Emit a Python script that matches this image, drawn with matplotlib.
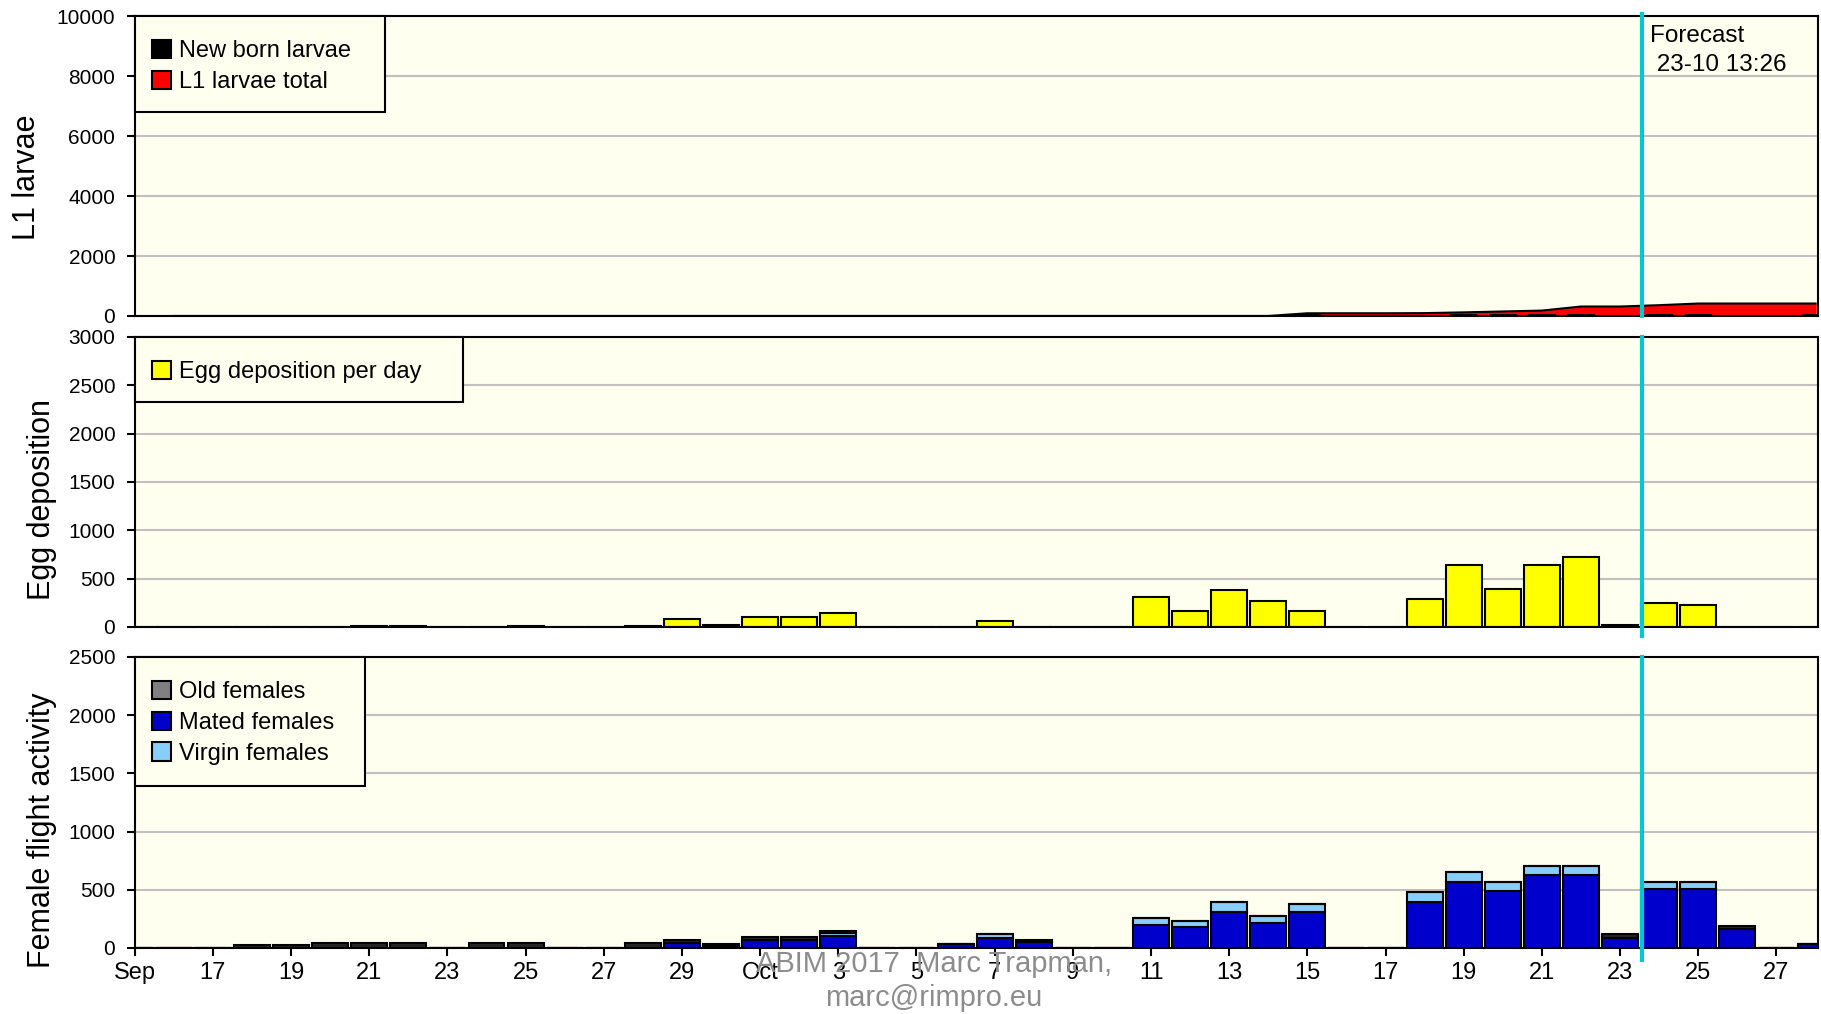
import numpy as np
import matplotlib
matplotlib.use('Agg')
import matplotlib.pyplot as plt
from matplotlib.patches import Patch, Rectangle
from matplotlib.transforms import blended_transform_factory

plt.rcParams['font.family'] = ['Liberation Sans', 'DejaVu Sans']

# days counted from 15 Sep (0) to 28 Oct (43)
days = np.arange(44)
tick_days = np.arange(0, 43, 2)
tick_labels = ['Sep', '17', '19', '21', '23', '25', '27', '29', 'Oct', '3', '5', '7',
               '9', '11', '13', '15', '17', '19', '21', '23', '25', '27']
forecast_day = 38 + 13.43 / 24   # 23-10 13:26

# L1 larvae
l1_days = np.arange(1, 44)
l1_total = np.array([0]*29 + [90, 90, 90, 95, 120, 150, 180, 315, 315, 360, 415, 415, 415, 415])
newborn = np.array([0]*30 + [60, 0, 0, 0, 70, 70, 70, 70, 0, 70, 70, 0, 0, 70])

# egg deposition per day
eggs = np.array([0, 0, 0, 3, 3, 3, 12, 12, 0, 3, 12, 0, 0, 12, 84, 20, 105, 105, 143, 0,
                 0, 4, 63, 4, 0, 0, 315, 168, 378, 273, 168, 0, 0, 290, 643, 395, 643, 727,
                 17, 245, 227, 0, 0, 0])

# female flight activity
mated = np.array([0, 0, 0, 0, 0, 0, 0, 0, 0, 0, 0, 0, 0, 0, 40, 20, 66, 66, 106, 0,
                  0, 30, 85, 50, 0, 0, 201, 184, 305, 218, 305, 0, 0, 391, 563, 491, 629, 629,
                  89, 511, 511, 161, 0, 30])
virgin = np.array([0]*18 + [20, 0, 0, 0, 34, 2, 0, 0, 55, 52, 89, 55, 71, 0, 0, 89, 89, 75,
                   75, 75, 0, 52, 52, 0, 0, 0])
old = np.array([0, 0, 0, 26, 23, 43, 43, 43, 0, 43, 43, 0, 0, 43, 29, 17, 28, 28, 20, 0,
                0, 8, 5, 20, 0, 0, 0, 0, 0, 0, 0, 0, 0, 0, 0, 0, 0, 0, 29, 0, 0, 26, 0, 4])

bg = '#FFFFF0'
cyan = '#00C8D2'

fig = plt.figure(figsize=(18.21, 10.14), dpi=100)
ax1 = fig.add_axes([0.07397, 0.6884, 0.92411, 0.2956])
ax2 = fig.add_axes([0.07397, 0.3817, 0.92411, 0.2860])
ax3 = fig.add_axes([0.07397, 0.0651, 0.92411, 0.2870])

for ax in (ax1, ax2, ax3):
    ax.set_facecolor(bg)
    ax.set_xlim(0, 43.05)
    ax.grid(axis='y', color='#C0C0C0', lw=1.5)
    ax.set_axisbelow(True)
    for s in ax.spines.values():
        s.set_linewidth(1.5)
    ax.tick_params(axis='y', labelsize=15, length=6, width=1.5, pad=8)
    ax.set_xticks(tick_days)
    ax.tick_params(axis='x', bottom=False, labelbottom=False)

# top panel
ax1.fill_between(l1_days, l1_total, color='red', zorder=2)
ax1.plot(l1_days, l1_total, color='black', lw=1.5, zorder=3)
ax1.bar(days, newborn, width=0.7, color='black', zorder=4)
ax1.set_ylim(0, 10000)
ax1.set_yticks(np.arange(0, 10001, 2000))
ax1.set_ylabel('L1 larvae', fontsize=22)
ax1.yaxis.set_label_coords(-0.055, 0.463)

# middle panel
ax2.bar(days, eggs, width=0.92, color='#FFFF00', edgecolor='black', lw=1.5, zorder=2)
ax2.set_ylim(0, 3000)
ax2.set_yticks(np.arange(0, 3001, 500))
ax2.set_ylabel('Egg deposition', fontsize=22)
ax2.yaxis.set_label_coords(-0.046, 0.44)

# bottom panel (old females show up almost black in the original)
ax3.bar(days, mated, width=0.92, color='#0000CC', edgecolor='black', lw=1.5, zorder=2)
ax3.bar(days, virgin, width=0.92, bottom=mated, color='#87CEFA', edgecolor='black', lw=1.5, zorder=2)
ax3.bar(days, old, width=0.92, bottom=mated + virgin, color='#262626', edgecolor='black', lw=1.5, zorder=2)
ax3.set_ylim(0, 2500)
ax3.set_yticks(np.arange(0, 2501, 500))
ax3.set_ylabel('Female flight activity', fontsize=22)
ax3.yaxis.set_label_coords(-0.046, 0.404)
ax3.tick_params(axis='x', bottom=True, labelbottom=True, labelsize=17, length=6, width=1.5, pad=4)
ax3.set_xticklabels(tick_labels)

# forecast line
ax1.axvline(forecast_day, ymin=0, ymax=1.007, color=cyan, lw=3, zorder=5, clip_on=False)
ax2.axvline(forecast_day, ymin=-0.032, ymax=1, color=cyan, lw=3, zorder=5, clip_on=False)
ax3.axvline(forecast_day, ymin=-0.04, ymax=1, color=cyan, lw=3, zorder=5, clip_on=False)
tr = blended_transform_factory(ax1.transData, ax1.transAxes)
ax1.text(forecast_day + 0.2, 0.97, 'Forecast\n 23-10 13:26', transform=tr, fontsize=17.5,
         va='top', ha='left', linespacing=1.42)


def box_legend(ax, handles, labels, w, h):
    ax.add_patch(Rectangle((0, 1 - h), w, h, transform=ax.transAxes, facecolor=bg,
                           edgecolor='black', lw=1.5, zorder=6, clip_on=False))
    top = 1 - 24 / (ax.get_position().height * 1014)
    leg = ax.legend(handles, labels, loc='upper left', bbox_to_anchor=(0.0101, top),
                    frameon=False, fontsize=17, borderpad=0, borderaxespad=0,
                    handlelength=0.8, handleheight=0.8, handletextpad=0.35, labelspacing=0.36)
    leg.set_zorder(7)


def sq(c):
    return Patch(facecolor=c, edgecolor='black', lw=1.5)


box_legend(ax1, [sq('black'), sq('red')], ['New born larvae', 'L1 larvae total'], 0.149, 0.32)
box_legend(ax2, [sq('#FFFF00')], ['Egg deposition per day'], 0.195, 0.224)
box_legend(ax3, [sq('#808080'), sq('#0000CC'), sq('#87CEFA')],
           ['Old females', 'Mated females', 'Virgin females'], 0.137, 0.443)

fig.text(934 / 1821, 1 - 981 / 1014, 'ABIM 2017  Marc Trapman,\nmarc@rimpro.eu', ha='center',
         va='center', fontsize=21, color='#8C8C8C', linespacing=1.3)

fig.savefig('out.png', dpi=100, facecolor='white')
